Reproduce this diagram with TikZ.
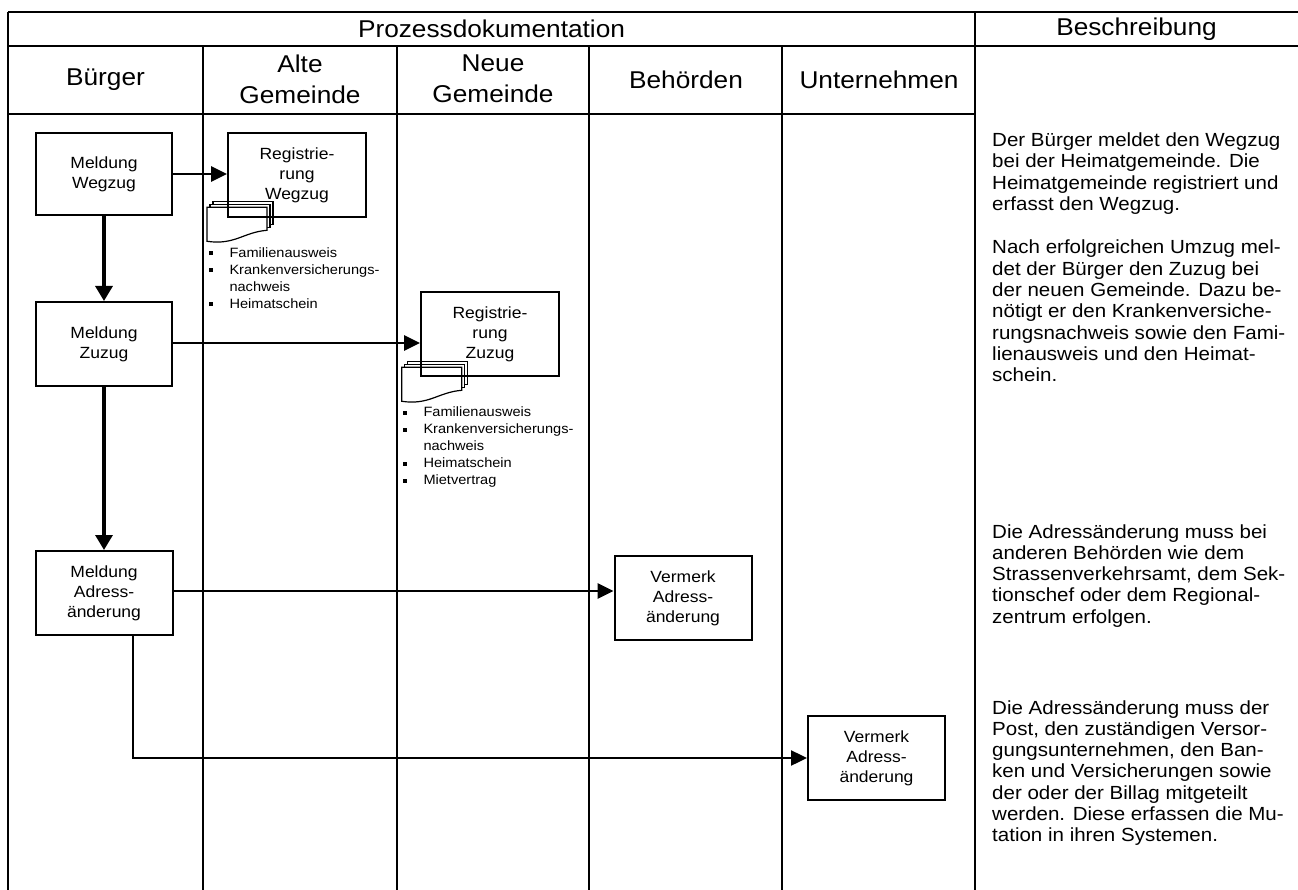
\documentclass[tikz,border=0pt]{standalone}
\usepackage{fontspec}
\setmainfont[FakeStretch=1.08]{Liberation Sans}
\usetikzlibrary{arrows.meta}

% small square used as list bullet
\newcommand{\lbul}{\rule[2pt]{3.6pt}{3.6pt}}

\begin{document}
\begin{tikzpicture}[x=1pt,y=-1pt,
  grid/.style={line width=1.6pt},
  headtxt/.style={inner sep=0pt, align=center, font=\fontsize{24.3}{31}\selectfont},
  stepbox/.style={draw, line width=2pt, minimum width=137pt, minimum height=84pt,
                  inner sep=0pt, align=center, font=\fontsize{16.2}{20}\selectfont},
  flow/.style={line width=2.8pt, -{Triangle[length=16pt,width=15pt]}},
  vflow/.style={line width=3.2pt, -{Triangle[length=15pt,width=17pt]}},
  desc/.style={anchor=base west, inner sep=0pt, align=left, font=\fontsize{19}{21.3}\selectfont},
  doclist/.style={anchor=north west, inner sep=0pt, font=\fontsize{13.5}{17}\selectfont},
  docs/.pic={
    \begin{scope}[line width=1.2pt, fill=white]
      \filldraw (6,-6) rectangle (66,17);
      \filldraw (3,-3) rectangle (63,20);
      \filldraw (0,0) -- (60,0) -- (60,23) .. controls (36,25) and (28,38) .. (0,34) -- cycle;
    \end{scope}
  }
]
\useasboundingbox (0,0) rectangle (1298,890);

% ---- table frame ----
\draw[grid] (8,12) -- (1298,12);
\draw[grid] (8,46) -- (1298,46);
\draw[grid] (8,114) -- (975,114);
\draw[grid] (8,12) -- (8,890);
\draw[grid] (975,12) -- (975,890);
\foreach \cx in {203,397,589,782} \draw[grid] (\cx,46) -- (\cx,890);

% ---- headings ----
\node[headtxt] (hproc) at (491.5,29) {Prozessdokumentation};
\node[headtxt] (hdesc) at (1136.5,29) {Beschreibung};
\node[headtxt] (hbuerger) at (105.5,80) {Bürger};
\node[headtxt] (halt) at (300,79) {Alte\\Gemeinde};
\node[headtxt] (hneu) at (493,79) {Neue\\Gemeinde};
\node[headtxt] (hbeh) at (686,80) {Behörden};
\node[headtxt] (hunt) at (879,80) {Unternehmen};

% ---- document stacks (drawn below the boxes) ----
\pic (dw) at (207,207.3) {docs};
\pic (dz) at (401.7,367.3) {docs};

% ---- process steps ----
\node[stepbox, minimum width=136pt, minimum height=82pt] (mw) at (104,174) {Meldung\\Wegzug};
\node[stepbox, minimum width=138pt] (rw) at (297,175) {Registrie-\\rung\\Wegzug};
\node[stepbox, minimum width=136pt] (mz) at (104,344) {Meldung\\Zuzug};
\node[stepbox, minimum width=138pt] (rz) at (490,334) {Registrie-\\rung\\Zuzug};
\node[stepbox] (ma) at (104,593) {Meldung\\Adress-\\änderung};
\node[stepbox] (vb) at (683,598) {Vermerk\\Adress-\\änderung};
\node[stepbox] (vu) at (876.5,758) {Vermerk\\Adress-\\änderung};

% ---- document lists ----
\node[doclist] (lw) at (209,245) {%
  \begin{tabular}{@{}p{20.3pt}@{}l@{}}
  \lbul & Familienausweis\\
  \lbul & Krankenversicherungs-\\
        & nachweis\\
  \lbul & Heimatschein
  \end{tabular}};
\node[doclist] (lz) at (403.2,404.5) {%
  \begin{tabular}{@{}p{20.1pt}@{}l@{}}
  \lbul & Familienausweis\\
  \lbul & Krankenversicherungs-\\
        & nachweis\\
  \lbul & Heimatschein\\
  \lbul & Mietvertrag
  \end{tabular}};

% ---- connectors ----
\draw[flow] (mw.east) -- (mw.east -| rw.west);
\draw[flow] ([yshift=1pt]mz.east) -- ([yshift=1pt]mz.east -| rz.west);
\draw[flow] ([yshift=2pt]ma.east) -- ([yshift=2pt]ma.east -| vb.west);
\draw[vflow] (mw.south) -- (mz.north);
\draw[vflow] (mz.south) -- (ma.north);
\draw[flow, line width=2.4pt] ([xshift=29pt]ma.south) |- (vu.west);

% ---- description column (anchored at the baseline of each last line) ----
\node[desc] (d1) at (992,210.6) {Der Bürger meldet den Wegzug\\bei der Heimatgemeinde. Die\\Heimatgemeinde registriert und\\erfasst den Wegzug.};
\node[desc] (d2) at (992,381.8) {Nach erfolgreichen Umzug mel-\\det der Bürger den Zuzug bei\\der neuen Gemeinde. Dazu be-\\nötigt er den Krankenversiche-\\rungsnachweis sowie den Fami-\\lienausweis und den Heimat-\\schein.};
\node[desc] (d3) at (992,623.2) {Die Adressänderung muss bei\\anderen Behörden wie dem\\Strassenverkehrsamt, dem Sek-\\tionschef oder dem Regional-\\zentrum erfolgen.};
\node[desc] (d4) at (992,841.8) {Die Adressänderung muss der\\Post, den zuständigen Versor-\\gungsunternehmen, den Ban-\\ken und Versicherungen sowie\\der oder der Billag mitgeteilt\\werden. Diese erfassen die Mu-\\tation in ihren Systemen.};
\end{tikzpicture}
\end{document}
